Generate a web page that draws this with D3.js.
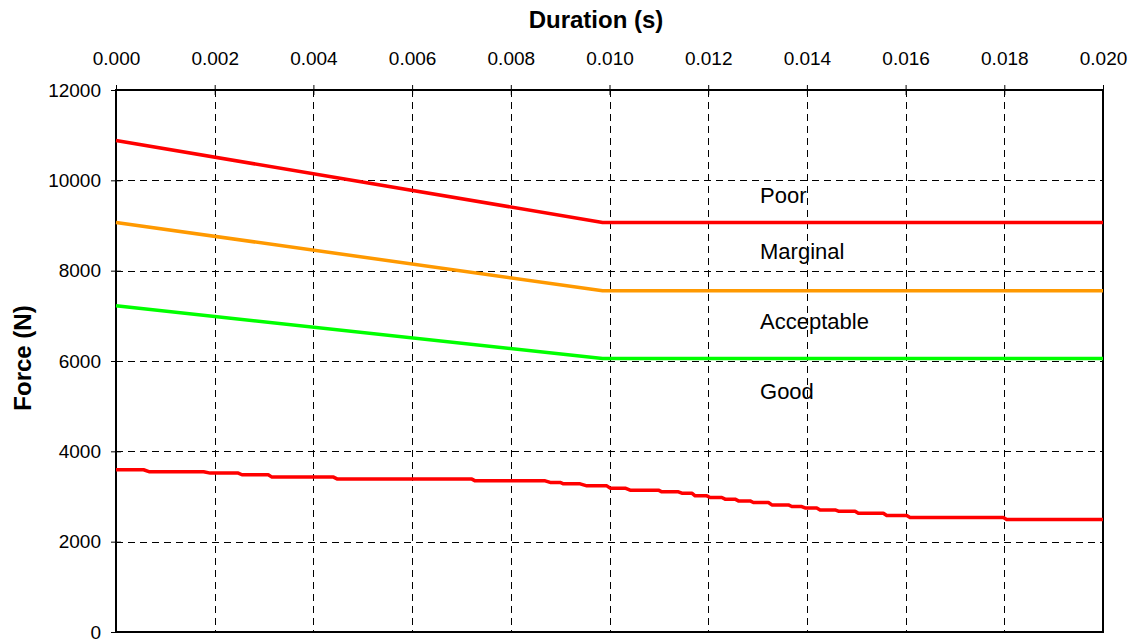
<!DOCTYPE html>
<html>
<head>
<meta charset="utf-8">
<script src="https://cdn.jsdelivr.net/npm/d3@7"></script>
<style>
  html, body { margin: 0; padding: 0; background: #fff; }
  svg { display: block; font-family: "Liberation Sans", Arial, sans-serif; }
</style>
</head>
<body>
<svg id="chart" width="1136" height="640"></svg>
<script>
// ---- Data ----
const xTicks = [0, 0.002, 0.004, 0.006, 0.008, 0.010, 0.012, 0.014, 0.016, 0.018, 0.020];
const yTicks = [0, 2000, 4000, 6000, 8000, 10000, 12000];

// Threshold lines (duration s, force N)
const poorT = [0, 0.00986, 0.020];
const poorF = [10880, 9067, 9067];
const marginalT = [0, 0.00986, 0.020];
const marginalF = [9067, 7556, 7556];
const acceptableT = [0, 0.00986, 0.020];
const acceptableF = [7222, 6053, 6053];

// Measured response curve
const respT = [0, 0.000559, 0.000681, 0.001775, 0.001910, 0.002477, 0.002552, 0.003085, 0.003160,
  0.004408, 0.004489, 0.007212, 0.007278, 0.008696, 0.008798, 0.009000, 0.009067, 0.009405, 0.009541,
  0.009946, 0.010013, 0.010317, 0.010418, 0.010991, 0.011060, 0.011397, 0.011465, 0.011668, 0.011735,
  0.011972, 0.012039, 0.012276, 0.012343, 0.012545, 0.012612, 0.012849, 0.012916, 0.013220, 0.013289,
  0.013625, 0.013694, 0.013896, 0.013963, 0.014200, 0.014267, 0.014571, 0.014638, 0.014976, 0.015043,
  0.015549, 0.015618, 0.016023, 0.016090, 0.017980, 0.018049, 0.020];
const respF = [3592, 3592, 3547, 3547, 3518, 3518, 3481, 3481, 3429,
  3429, 3385, 3385, 3347, 3347, 3311, 3311, 3280, 3280, 3236,
  3236, 3185, 3185, 3140, 3140, 3103, 3103, 3074, 3074, 3014,
  3014, 2978, 2978, 2941, 2941, 2903, 2903, 2867, 2867, 2814,
  2814, 2778, 2778, 2747, 2747, 2703, 2703, 2674, 2674, 2629,
  2629, 2578, 2578, 2534, 2534, 2490, 2490];

const zoneLabels = ["Poor", "Marginal", "Acceptable", "Good"];
const zoneLabelF = [9660, 8420, 6880, 5330];
const zoneLabelT = 0.01305;

// ---- Layout ----
const svg = d3.select("#chart");
const L = 116, R = 1103, T = 90, B = 632;
const x = d3.scaleLinear().domain([0, 0.020]).range([L, R]);
const y = d3.scaleLinear().domain([0, 12000]).range([B, T]);

// gridlines
const grid = svg.append("g");
grid.selectAll("line.v").data(xTicks.slice(1, -1)).enter().append("line")
  .attr("x1", d => Math.round(x(d)) + 0.5).attr("x2", d => Math.round(x(d)) + 0.5)
  .attr("y1", T).attr("y2", B)
  .attr("stroke", "#000").attr("stroke-width", 1).attr("stroke-dasharray", "7,5");
grid.selectAll("line.h").data(yTicks.slice(1, -1)).enter().append("line")
  .attr("x1", L).attr("x2", R)
  .attr("y1", d => Math.round(y(d)) + 0.5).attr("y2", d => Math.round(y(d)) + 0.5)
  .attr("stroke", "#000").attr("stroke-width", 1).attr("stroke-dasharray", "7,5");

// axes
const xAxis = d3.axisTop(x).tickValues(xTicks).tickFormat(d3.format(".3f"))
  .tickSizeInner(5).tickSizeOuter(0).tickPadding(20);
const gx = svg.append("g").attr("transform", `translate(0,${T})`).call(xAxis);
const yAxis = d3.axisLeft(y).tickValues(yTicks).tickFormat(d => d)
  .tickSizeInner(5).tickSizeOuter(0).tickPadding(10);
const gy = svg.append("g").attr("transform", `translate(${L},0)`).call(yAxis);

[gx, gy].forEach(g => {
  g.select(".domain").remove();
  g.selectAll(".tick line").attr("stroke", "#000").attr("stroke-width", 1);
  g.selectAll(".tick text").attr("fill", "#000").style("font-size", "19px")
    .style("font-family", "'Liberation Sans', Arial, sans-serif");
});
// ticks crossing the axis
gx.selectAll(".tick line").attr("y1", 5).attr("y2", -5);
gy.selectAll(".tick line").attr("x1", 5).attr("x2", -5);

// plot border
svg.append("rect").attr("x", L).attr("y", T).attr("width", R - L).attr("height", B - T)
  .attr("fill", "none").attr("stroke", "#000").attr("stroke-width", 2);

// lines
const line = d3.line().x(d => x(d[0])).y(d => y(d[1]));
const series = [
  { t: respT, f: respF, color: "#FF0000", w: 3.5 },
  { t: acceptableT, f: acceptableF, color: "#00FF00", w: 3.5 },
  { t: marginalT, f: marginalF, color: "#FF9900", w: 3.5 },
  { t: poorT, f: poorF, color: "#FF0000", w: 3.5 }
];
svg.append("g").selectAll("path").data(series).enter().append("path")
  .attr("d", s => line(s.t.map((t, i) => [t, s.f[i]])))
  .attr("fill", "none").attr("stroke", s => s.color).attr("stroke-width", s => s.w)
  .attr("stroke-linejoin", "round");

// zone labels
svg.append("g").selectAll("text").data(zoneLabels).enter().append("text")
  .attr("x", x(zoneLabelT)).attr("y", (d, i) => y(zoneLabelF[i]))
  .attr("dy", "0.35em")
  .style("font-size", "22px").attr("fill", "#000")
  .text(d => d);

// titles
svg.append("text").attr("x", 596).attr("y", 28).attr("text-anchor", "middle")
  .style("font-size", "24px").style("font-weight", "bold").text("Duration (s)");
svg.append("text").attr("transform", "translate(31,358) rotate(-90)").attr("text-anchor", "middle")
  .style("font-size", "24px").style("font-weight", "bold").text("Force (N)");
</script>
</body>
</html>
